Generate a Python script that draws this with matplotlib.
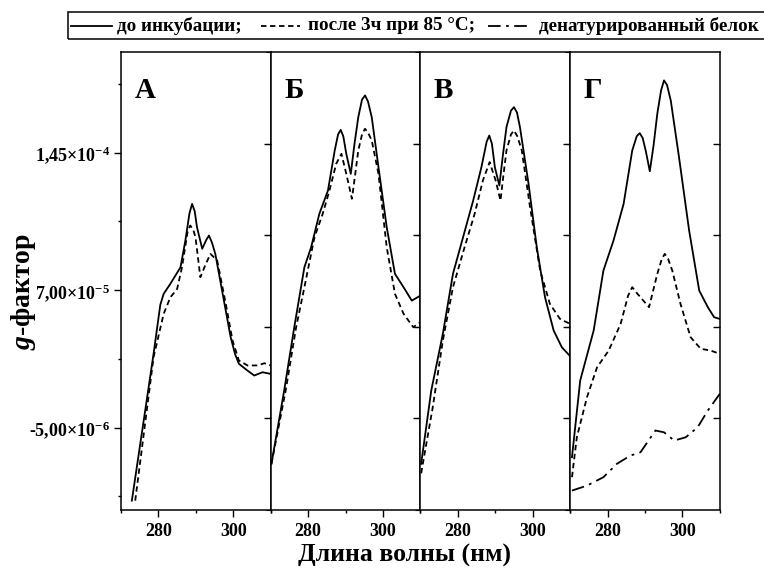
import matplotlib
matplotlib.use("Agg")
import matplotlib.pyplot as plt
from matplotlib.lines import Line2D
from matplotlib.patches import Rectangle
from matplotlib.ticker import FixedLocator, FixedFormatter

plt.rcParams['font.family'] = ['Liberation Serif', 'DejaVu Serif']
plt.rcParams['font.weight'] = 'bold'
plt.rcParams['mathtext.fontset'] = 'custom'
plt.rcParams['mathtext.rm'] = 'Liberation Serif:bold'
plt.rcParams['mathtext.it'] = 'Liberation Serif:italic:bold'
plt.rcParams['mathtext.bf'] = 'Liberation Serif:bold'

SCALE = 1e-5  # values below are in units of 1e-5

# panel A
a_before_x = [272.9, 278.7, 280.5, 281.4, 283.2, 285.9, 287.2, 288.3, 289.0, 289.7, 290.3, 291.7, 292.8, 293.5, 294.3, 295.2, 297.5, 299.3, 300.5, 301.5, 303.8, 305.6, 307.8, 310]
a_before_y = [-4.49, 3.52, 6.20, 6.80, 7.35, 8.25, 9.71, 11.20, 11.71, 11.30, 10.44, 9.26, 9.75, 9.98, 9.60, 8.98, 6.43, 4.43, 3.50, 2.98, 2.61, 2.34, 2.52, 2.43]
a_after_x = [273.8, 278.7, 281.4, 283.2, 285.0, 286.3, 287.8, 288.5, 289.3, 289.9, 291.2, 292.6, 293.9, 295.7, 298.0, 299.8, 301.5, 303.8, 306.5, 308.3, 310]
a_after_y = [-4.49, 3.34, 5.71, 6.61, 7.07, 8.25, 10.20, 10.53, 10.30, 9.89, 7.71, 8.40, 8.98, 8.62, 6.25, 4.25, 3.16, 2.89, 2.89, 3.01, 2.89]

# panel Б
b_before_x = [270.2, 273.6, 276.3, 279.0, 280.8, 283.0, 285.3, 287.1, 288.0, 288.7, 289.4, 290.2, 291.4, 292.4, 293.4, 294.4, 295.2, 296.0, 297.0, 298.8, 301.0, 303.2, 305.5, 307.7, 310]
b_before_y = [-2.48, 1.52, 4.98, 8.25, 9.34, 11.17, 12.44, 14.62, 15.50, 15.75, 15.40, 14.44, 13.35, 15.00, 16.44, 17.40, 17.63, 17.30, 16.44, 13.71, 10.44, 7.89, 7.16, 6.43, 6.70]
b_after_x = [270.2, 274.0, 276.8, 279.0, 281.7, 283.9, 285.7, 287.5, 288.9, 290.2, 291.7, 292.5, 293.4, 294.4, 295.2, 296.0, 297.0, 298.8, 301.0, 303.2, 305.5, 308.1, 310]
b_after_y = [-2.48, 1.52, 4.98, 7.16, 9.89, 11.17, 12.44, 13.90, 14.44, 13.35, 11.99, 13.20, 14.62, 15.50, 15.81, 15.60, 15.17, 13.35, 9.34, 6.80, 5.71, 4.98, 5.25]

# panel В
c_before_x = [270.2, 272.9, 276.0, 278.7, 281.4, 284.1, 286.3, 287.7, 288.4, 289.1, 289.9, 291.1, 292.0, 293.0, 294.2, 295.0, 295.8, 296.6, 298.9, 301.1, 303.3, 305.6, 307.8, 310]
c_before_y = [-2.48, 1.52, 4.62, 7.89, 9.89, 11.89, 13.71, 15.10, 15.44, 15.00, 13.71, 12.71, 14.30, 15.90, 16.80, 16.99, 16.70, 15.90, 12.80, 9.34, 6.61, 4.80, 3.88, 3.40]
c_after_x = [270.2, 273.3, 276.0, 278.7, 281.8, 284.5, 286.7, 288.5, 290.1, 291.4, 292.2, 293.0, 294.2, 295.0, 295.9, 297.1, 299.3, 302.0, 304.6, 307.3, 310]
c_after_y = [-3.00, 0.61, 4.25, 7.16, 9.34, 11.17, 12.99, 13.99, 12.99, 11.89, 13.30, 14.62, 15.50, 15.72, 15.40, 14.62, 11.53, 8.07, 6.25, 5.43, 5.16]

# panel Г
d_before_x = [270.5, 272.7, 276.3, 278.9, 281.6, 284.3, 286.6, 287.8, 288.6, 289.4, 290.2, 291.3, 292.3, 293.3, 294.3, 295.1, 295.9, 296.9, 299.1, 301.8, 304.5, 306.8, 308.5, 310]
d_before_y = [-2.12, 2.07, 4.80, 8.07, 9.71, 11.71, 14.62, 15.40, 15.57, 15.30, 14.62, 13.49, 14.90, 16.63, 17.90, 18.45, 18.20, 17.35, 14.26, 10.26, 6.98, 6.07, 5.52, 5.43]
d_after_x = [270.5, 271.8, 274.5, 277.2, 280.3, 283.5, 285.5, 286.6, 288.0, 291.1, 293.3, 294.5, 295.3, 296.2, 297.3, 299.5, 302.2, 304.9, 307.6, 310]
d_after_y = [-3.21, -1.03, 1.15, 2.79, 3.70, 5.16, 6.70, 7.16, 6.80, 6.07, 7.89, 8.70, 8.98, 8.70, 8.07, 6.25, 4.43, 3.80, 3.70, 3.52]
d_denat_x = [270.5, 274.5, 278.9, 282.5, 286.1, 288.8, 292.8, 295.1, 297.8, 300.9, 304.1, 306.8, 310]
d_denat_y = [-3.94, -3.67, -3.21, -2.48, -2.03, -1.85, -0.66, -0.76, -1.21, -1.03, -0.48, 0.43, 1.34]

panel_letters = ['А', 'Б', 'В', 'Г']
legend_labels = ['до инкубации;', 'после 3ч при 85 °C;', 'денатурированный белок']
ytick_vals = [-5e-6, 7e-5, 1.45e-4]
ytick_labels = ['-5,00×10$^{-6}$', '7,00×10$^{-5}$', '1,45×10$^{-4}$']
xtick_vals = [280, 300]

panels = [
    [(a_before_x, a_before_y, '-'), (a_after_x, a_after_y, '--')],
    [(b_before_x, b_before_y, '-'), (b_after_x, b_after_y, '--')],
    [(c_before_x, c_before_y, '-'), (c_after_x, c_after_y, '--')],
    [(d_before_x, d_before_y, '-'), (d_after_x, d_after_y, '--'), (d_denat_x, d_denat_y, '-.')],
]

W, H = 764, 579
fig = plt.figure(figsize=(W / 100, H / 100), dpi=100)

dash_styles = {'-': '-', '--': (0, (3, 2)), '-.': (0, (7, 3, 1.5, 3))}

left0, pw = 121, 149.7
top, bottom = 52, 510
for i, lines in enumerate(panels):
    ax = fig.add_axes([(left0 + i * pw) / W, 1 - bottom / H, pw / W, (bottom - top) / H])
    for xs, ys, ls in lines:
        ax.plot(xs, [v * SCALE for v in ys], color='black', lw=1.3,
                linestyle=dash_styles[ls], solid_joinstyle='round')
    ax.set_xlim(270, 310)
    ax.set_ylim(-5e-5, 2e-4)
    ax.xaxis.set_major_locator(FixedLocator(xtick_vals))
    ax.xaxis.set_minor_locator(FixedLocator([270, 290, 310]))
    ax.tick_params(axis='x', which='major', direction='out', length=5, width=1, labelsize=13, pad=4)
    ax.tick_params(axis='x', which='minor', direction='out', length=2.5, width=1)
    for lab in ax.get_xticklabels():
        lab.set_fontweight('bold')
    if i == 0:
        ax.yaxis.set_major_locator(FixedLocator(ytick_vals))
        ax.yaxis.set_major_formatter(FixedFormatter(ytick_labels))
        ax.yaxis.set_minor_locator(FixedLocator([-4.25e-5, 3.25e-5, 1.075e-4, 1.825e-4]))
        ax.tick_params(axis='y', which='major', direction='out', length=5, width=1, labelsize=13, pad=3)
        ax.tick_params(axis='y', which='minor', direction='out', length=2.5, width=1)
    else:
        ax.tick_params(axis='y', which='both', left=False, labelleft=False)
    for sp in ax.spines.values():
        sp.set_linewidth(1.1)
    ax.text(0.09, 0.90, panel_letters[i], transform=ax.transAxes, fontsize=21,
            fontweight='bold', ha='left', va='baseline')
    tw = ax.twinx()
    tw.set_ylim(0, 1)
    tw.set_yticks([0.2, 0.4, 0.6, 0.8])
    tw.tick_params(axis='y', direction='in', length=5, width=1, labelright=False)
    for sp in tw.spines.values():
        sp.set_visible(False)

fig.text(405 / W, 1 - 555 / H, 'Длина волны (нм)', ha='center', va='center', fontsize=18.5, fontweight='bold')
fig.text(24 / W, 1 - 292 / H, '$\\mathit{g}$-фактор', ha='center', va='center', rotation=90,
         fontsize=20, fontweight='bold')

# legend strip
fig.add_artist(Rectangle((68 / W, 1 - 39 / H), 720 / W, 27 / H, transform=fig.transFigure,
                         fill=False, edgecolor='black', lw=1.1, clip_on=False))
ly = 1 - 26 / H
items = [((71, 112), legend_labels[0], 117, '-'),
         ((261, 300), legend_labels[1], 308, '--'),
         ((488, 529), legend_labels[2], 539, '-.')]
for (x0, x1), lab, tx, ls in items:
    fig.add_artist(Line2D([x0 / W, x1 / W], [ly, ly], transform=fig.transFigure,
                          color='black', lw=1.3, linestyle=dash_styles[ls]))
    fig.text(tx / W, ly, lab, ha='left', va='center', fontsize=13.8, fontweight='bold')

fig.savefig('out.png', dpi=100)
